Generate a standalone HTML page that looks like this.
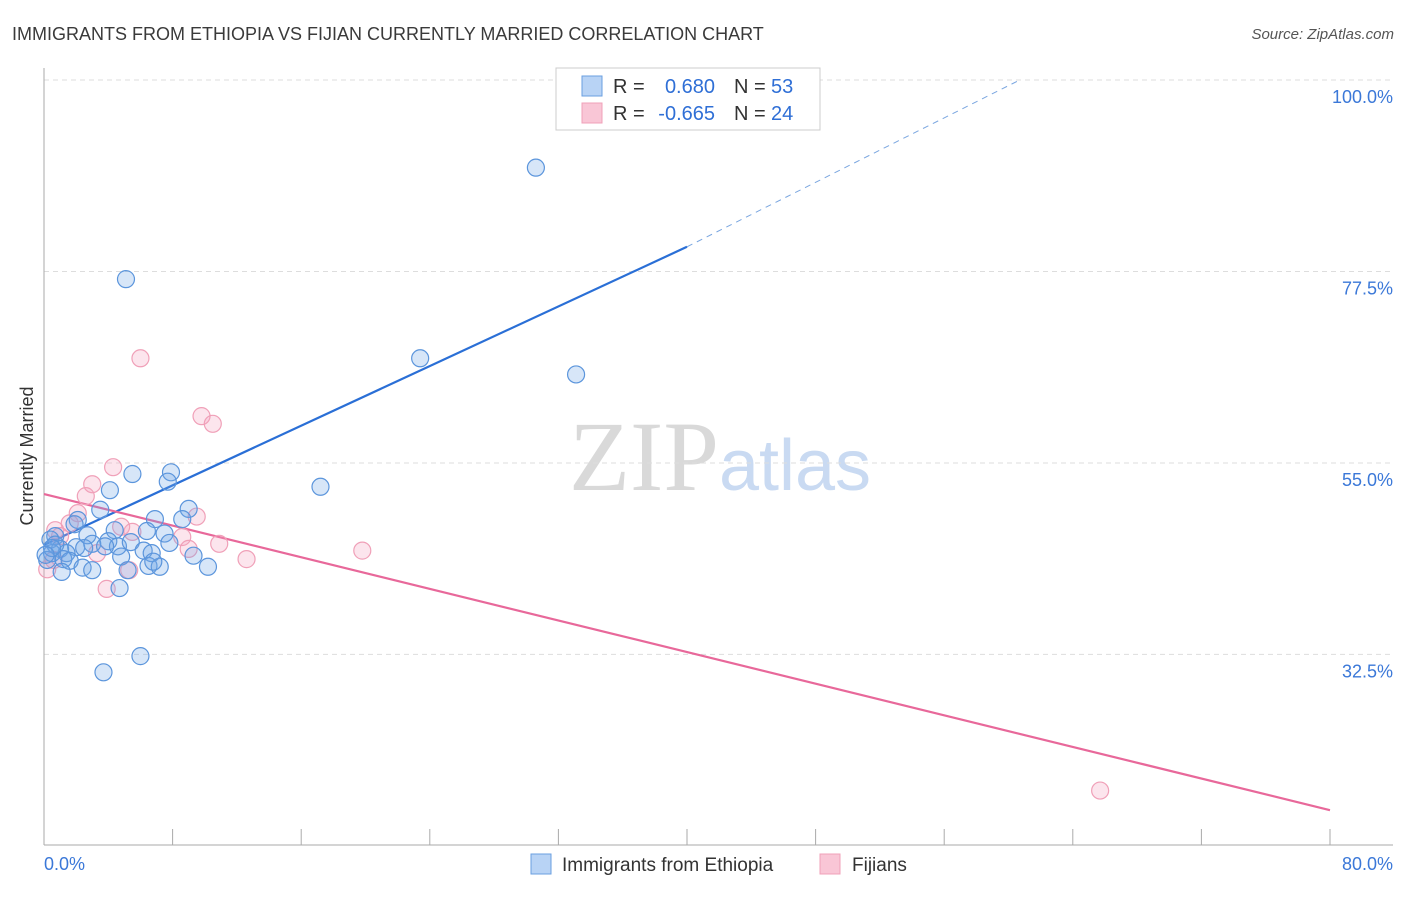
<!DOCTYPE html>
<html><head><meta charset="utf-8"><style>
body{margin:0;background:#fff;font-family:"Liberation Sans",sans-serif}
</style></head><body>
<svg width="1406" height="892" xmlns="http://www.w3.org/2000/svg" font-family="Liberation Sans, sans-serif">
<text x="12" y="40" font-size="18" fill="#3a3a3a">IMMIGRANTS FROM ETHIOPIA VS FIJIAN CURRENTLY MARRIED CORRELATION CHART</text>
<text x="1394" y="39" font-size="15" fill="#555" text-anchor="end" font-style="italic">Source: ZipAtlas.com</text>
<text x="720" y="490" font-size="100" text-anchor="middle"><tspan font-family="Liberation Serif, serif" fill="#d9d9d9">ZIP</tspan><tspan fill="#c9daf2" font-size="72">atlas</tspan></text>
<g id="grid"></g>
<g id="axes"></g>
<text transform="translate(33,456) rotate(-90)" font-size="18" fill="#333" text-anchor="middle">Currently Married</text>
<g id="lines"></g>
<g id="points"></g>
<g>
<rect x="556" y="68" width="264" height="62" fill="#fff" stroke="#ccc"/>
<rect x="582" y="76" width="20" height="20" fill="#b8d3f5" stroke="#6a9fe0"/>
<rect x="582" y="103" width="20" height="20" fill="#f9c6d6" stroke="#f0a0b8"/>
<text x="613" y="93" font-size="20" fill="#333">R =</text>
<text x="715" y="93" font-size="20" fill="#2f6fd6" text-anchor="end">0.680</text>
<text x="734" y="93" font-size="20" fill="#333">N =</text>
<text x="771" y="93" font-size="20" fill="#2f6fd6">53</text>
<text x="613" y="120" font-size="20" fill="#333">R =</text>
<text x="715" y="120" font-size="20" fill="#2f6fd6" text-anchor="end">-0.665</text>
<text x="734" y="120" font-size="20" fill="#333">N =</text>
<text x="771" y="120" font-size="20" fill="#2f6fd6">24</text>
</g>
<g>
<rect x="531" y="854" width="20" height="20" fill="#b8d3f5" stroke="#6a9fe0"/>
<text x="562" y="871" font-size="19" fill="#333">Immigrants from Ethiopia</text>
<rect x="820" y="854" width="20" height="20" fill="#f9c6d6" stroke="#f0a0b8"/>
<text x="852" y="871" font-size="19" fill="#333">Fijians</text>
</g>
</svg>
<script>
const blueX=[30.6,5.1,23.4,33.1,17.2,5.5,7.9,7.7,4.1,3.5,9.0,2.1,1.9,8.6,6.9,4.4,6.4,7.5,2.7,0.7,0.4,4.0,2.0,3.0,4.6,3.8,5.4,7.8,1.0,1.4,6.2,6.7,9.3,4.8,0.5,1.2,1.6,2.4,3.0,1.1,6.5,7.2,5.2,10.2,6.8,4.7,6.0,3.7,0.2,0.7,0.5,2.5,0.1];
const blueY=[89.7,76.6,67.3,65.4,52.2,53.7,53.9,52.8,51.8,49.5,49.6,48.3,47.8,48.4,48.4,47.1,47.0,46.7,46.5,46.4,46.0,45.8,45.1,45.5,45.2,45.2,45.7,45.6,44.9,44.4,44.7,44.4,44.1,44.0,44.4,43.7,43.5,42.7,42.4,42.2,42.9,42.8,42.4,42.8,43.4,40.3,32.3,30.4,43.6,45.4,45.0,45.0,44.2];
const pinkX=[6.0,9.8,10.5,4.3,3.0,2.6,2.1,9.5,1.6,0.7,1.0,4.8,5.5,8.6,3.3,10.9,9.0,12.6,19.8,5.3,3.9,0.2,0.6,65.7];
const pinkY=[67.3,60.5,59.6,54.5,52.5,51.1,49.1,48.7,47.9,47.1,46.4,47.5,46.9,46.3,44.4,45.5,44.9,43.7,44.7,42.4,40.2,42.5,43.6,16.5];
const yTicks=[100,77.5,55,32.5];
const yTickLabels=["100.0%","77.5%","55.0%","32.5%"];
const xTicks=[0,8,16,24,32,40,48,56,64,72,80];
const blueTrend=[[0,45.36],[40,80.4],[60.7,100]];
const pinkTrend=[[0,51.35],[80,14.2]];
const NS="http://www.w3.org/2000/svg";
const sx=v=>44+v*(1286/80);
const sy=v=>80+(100-v)*8.51;
function mk(tag,attrs,parent){const e=document.createElementNS(NS,tag);for(const k in attrs)e.setAttribute(k,attrs[k]);document.getElementById(parent).appendChild(e);return e;}
yTicks.forEach((t,i)=>{
 const l=mk('line',{x1:44,x2:1393,y1:sy(t),y2:sy(t),stroke:'#ddd','stroke-dasharray':'5,4'},'grid');
 
 
 const tx=mk('text',{x:1393,y:sy(t)+23,'font-size':18,fill:'#3b78d8','text-anchor':'end'},'grid');
 tx.textContent=yTickLabels[i];
 
 
});
let a=mk('line',{x1:44,x2:44,y1:68,y2:845,stroke:'#aaa'},'axes');


a=mk('line',{x1:44,x2:1393,y1:845,y2:845,stroke:'#aaa'},'axes');


xTicks.forEach(t=>{const e=mk('line',{x1:sx(t),x2:sx(t),y1:829,y2:845,stroke:'#aaa'},'axes');
 
 });
let t0=mk('text',{x:44,y:870,'font-size':18,fill:'#3b78d8'},'axes');t0.textContent='0.0%';


t0=mk('text',{x:1393,y:870,'font-size':18,fill:'#3b78d8','text-anchor':'end'},'axes');t0.textContent='80.0%';


function dots(X,Y,fill,stroke,name){X.forEach((x,i)=>{const c=mk('circle',{cx:sx(x),cy:sy(Y[i]),r:8.5,fill:fill,stroke:stroke,'stroke-width':1.2},'points');
 
 });}
dots(pinkX,pinkY,'rgba(245,160,190,0.28)','#f0a0b8','fijian-point');
dots(blueX,blueY,'rgba(110,165,230,0.28)','#5b95dc','ethiopia-point');
let l=mk('line',{x1:sx(blueTrend[0][0]),y1:sy(blueTrend[0][1]),x2:sx(blueTrend[1][0]),y2:sy(blueTrend[1][1]),stroke:'#2a6fd6','stroke-width':2.2},'lines');


l=mk('line',{x1:sx(blueTrend[1][0]),y1:sy(blueTrend[1][1]),x2:sx(blueTrend[2][0]),y2:sy(blueTrend[2][1]),stroke:'#7aa6e0','stroke-width':1,'stroke-dasharray':'6,5'},'lines');


l=mk('line',{x1:sx(pinkTrend[0][0]),y1:sy(pinkTrend[0][1]),x2:sx(pinkTrend[1][0]),y2:sy(pinkTrend[1][1]),stroke:'#e8689a','stroke-width':2.2},'lines');


</script>
</body></html>
